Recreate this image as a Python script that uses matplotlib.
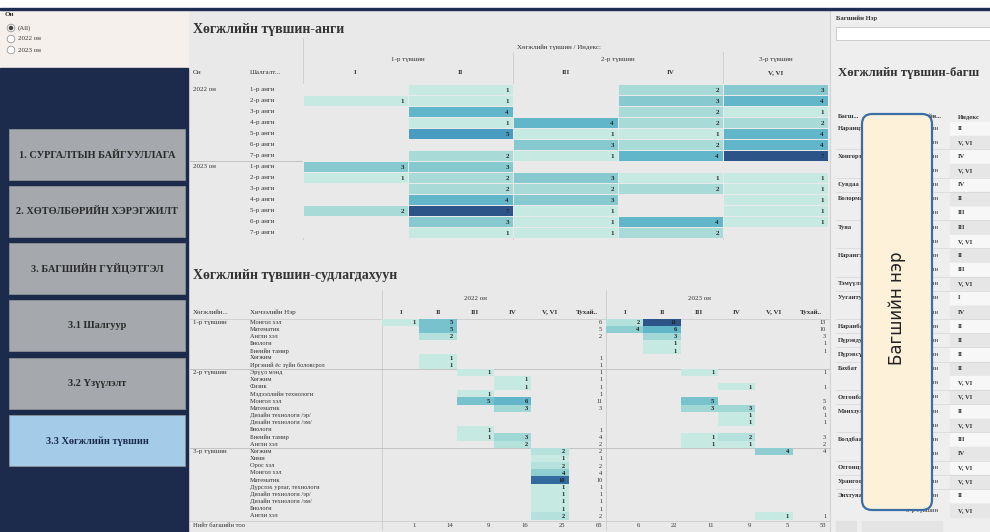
import numpy as np
import matplotlib
matplotlib.use('Agg')
import matplotlib.pyplot as plt
from matplotlib.patches import Rectangle, FancyBboxPatch, Circle
from matplotlib.colors import LinearSegmentedColormap

# ---------------- data ----------------
year_options = ['(All)', '2022 он', '2023 он']
nav_buttons = ['1. СУРГАЛТЫН БАЙГУУЛЛАГА', '2. ХӨТӨЛБӨРИЙН ХЭРЭГЖИЛТ',
               '3. БАГШИЙН ГҮЙЦЭТГЭЛ', '3.1 Шалгуур', '3.2 Үзүүлэлт',
               '3.3 Хөгжлийн түвшин']
years = ['2022 он', '2023 он']
levels = ['1-р түвшин', '2-р түвшин', '3-р түвшин']
index_cols = ['I', 'II', 'III', 'IV', 'V, VI']
grades = ['1-р анги', '2-р анги', '3-р анги', '4-р анги', '5-р анги', '6-р анги', '7-р анги']

N = np.nan
grade_2022 = [[N, 1, N, 2, 3], [1, 1, N, 3, 4], [N, 4, N, 2, 1], [N, 1, 4, 2, 2],
              [N, 5, 1, 1, 4], [N, N, 3, 2, 4], [N, 2, 1, 4, 7]]
grade_2023 = [[3, 3, N, N, N], [1, 2, 3, 1, 1], [N, 2, 2, 2, 1], [N, 4, 3, N, 1],
              [2, 7, 1, N, 1], [N, 3, 1, 4, 1], [N, 1, 1, 2, N]]

subjects_l1 = ['Монгол хэл', 'Математик', 'Англи хэл', 'Биологи', 'Биеийн тамир',
               'Хөгжим', 'Иргэний ёс зүйн боловсрол']
subjects_l2 = ['Эрүүл мэнд', 'Хөгжим', 'Физик', 'Мэдээллийн технологи', 'Монгол хэл',
               'Математик', 'Дизайн технологи /эр/', 'Дизайн технологи /эм/', 'Биологи',
               'Биеийн тамир', 'Англи хэл']
subjects_l3 = ['Хөгжим', 'Хими', 'Орос хэл', 'Монгол хэл', 'Математик',
               'Дүрслэх урлаг, технологи', 'Дизайн технологи /эр/',
               'Дизайн технологи /эм/', 'Биологи', 'Англи хэл']

subject_2022 = [[1, 5, N, N, N], [N, 5, N, N, N], [N, 2, N, N, N], [N, N, N, N, N],
                [N, N, N, N, N], [N, 1, N, N, N], [N, 1, N, N, N],
                [N, N, 1, N, N], [N, N, N, 1, N], [N, N, N, 1, N], [N, N, 1, N, N],
                [N, N, 5, 6, N], [N, N, N, 3, N], [N, N, N, N, N], [N, N, N, N, N],
                [N, N, 1, N, N], [N, N, 1, 3, N], [N, N, N, 2, N],
                [N, N, N, N, 2], [N, N, N, N, 1], [N, N, N, N, 2], [N, N, N, N, 4],
                [N, N, N, N, 10], [N, N, N, N, 1], [N, N, N, N, 1], [N, N, N, N, 1],
                [N, N, N, N, 1], [N, N, N, N, 2]]
subject_2023 = [[2, 11, N, N, N], [4, 6, N, N, N], [N, 3, N, N, N], [N, 1, N, N, N],
                [N, 1, N, N, N], [N, N, N, N, N], [N, N, N, N, N],
                [N, N, 1, N, N], [N, N, N, N, N], [N, N, N, 1, N], [N, N, N, N, N],
                [N, N, 5, N, N], [N, N, 3, 3, N], [N, N, N, 1, N], [N, N, N, 1, N],
                [N, N, N, N, N], [N, N, 1, 2, N], [N, N, 1, 1, N],
                [N, N, N, N, 4], [N, N, N, N, N], [N, N, N, N, N], [N, N, N, N, N],
                [N, N, N, N, N], [N, N, N, N, N], [N, N, N, N, N], [N, N, N, N, N],
                [N, N, N, N, N], [N, N, N, N, 1]]

teacher_names = ['Наранцэцэг', '', 'Хонгорзул', '', 'Сувдаа', 'Болормаа', '', 'Туяа', '',
                 'Нарангэрэл', '', 'Тэмүүлэн', 'Уугантуяа', '', 'Наранбаяр', 'Пүрэвдулам',
                 'Пүрэвсүрэн', 'Бэхбат', '', 'Отгонбаяр', 'Мөнхзул', '', 'Болдбаатар', '',
                 'Отгонцэцэг', 'Урангоо', 'Энхтуяа', '']
teacher_index = ['II', 'V, VI', 'IV', 'V, VI', 'IV', 'II', 'III', 'III', 'V, VI', 'II',
                 'III', 'V, VI', 'I', 'IV', 'II', 'II', 'II', 'II', 'V, VI', 'V, VI', 'II',
                 'V, VI', 'III', 'IV', 'V, VI', 'V, VI', 'II', 'V, VI']

# ---------------- figure ----------------
W, H = 990, 532
fig = plt.figure(figsize=(W / 100, H / 100), dpi=100)
ax = fig.add_axes([0, 0, 1, 1])
ax.set_xlim(0, W)
ax.set_ylim(H, 0)
ax.axis('off')

SERIF = 'Liberation Serif'
TXT = '#333333'
LINE = '#cccccc'
cmap = LinearSegmentedColormap.from_list(
    'bt', ['#c6e9e1', '#98d4d2', '#62b6ca', '#3c8fbc', '#2c5489'])


def px_axes(x0, y0, x1, y1):
    a = fig.add_axes([x0 / W, 1 - y1 / H, (x1 - x0) / W, (y1 - y0) / H])
    a.axis('off')
    a.patch.set_alpha(0)
    return a


def t(x, y, s, size=5.5, ha='left', va='center', weight='normal', color=TXT, **kw):
    ax.text(x, y, s, fontsize=size, ha=ha, va=va, fontweight=weight, color=color,
            family=SERIF, **kw)


# backgrounds
ax.add_patch(Rectangle((0, 0), W, 9, color='white', zorder=0))
ax.add_patch(Rectangle((188, 10), 642, H, color='#e9e9e9', zorder=0))
ax.add_patch(Rectangle((830, 10), 160, H, color='#eeeeee', zorder=0))
ax.add_patch(Rectangle((0, 10), 188, 58, color='#f6f0ec', zorder=0))
ax.add_patch(Rectangle((0, 68), 188, H - 68, color='#1c2a4b', zorder=0))
ax.add_patch(Rectangle((0, 8), W, 2.2, color='#1f2d52', zorder=3))
ax.plot([830, 830], [10, H], color='#d4d4d4', lw=0.8)

# ---------------- left panel ----------------
t(5, 15, 'Он', size=5, weight='bold')
for i, opt in enumerate(year_options):
    yy = 28 + i * 11
    ax.add_patch(Circle((11, yy), 3.8, facecolor='white', edgecolor='#999999', lw=0.6))
    if i == 0:
        ax.add_patch(Circle((11, yy), 1.6, color='#444444'))
    t(18, yy, opt, size=5)

btn_tops = [129, 186, 243, 300, 358, 415]
for i, (lab, y0) in enumerate(zip(nav_buttons, btn_tops)):
    fc = '#a4cce9' if i == 5 else '#a5a8ac'
    ax.add_patch(Rectangle((9, y0), 176, 51, facecolor=fc, edgecolor='#8d9196', lw=0.6))
    t(97, y0 + 26, lab, size=7.4, ha='center', weight='bold',
      color='#1c2a4b' if i == 5 else '#2a2a2a')

# ---------------- top heatmap: level vs grade ----------------
t(193, 29, 'Хөгжлийн түвшин-анги', size=10, weight='bold')
t(517, 47, 'Хөгжлийн түвшин / Индекс:', size=5)
col_x0, col_w = 303, 105
t(col_x0 + col_w, 60, levels[0], size=5, ha='center')
t(col_x0 + 3 * col_w, 60, levels[1], size=5, ha='center')
t(col_x0 + 4.5 * col_w, 60, levels[2], size=5, ha='center')
t(193, 73, 'Он', size=5)
t(250, 73, 'Шалгалт...', size=5)
for j, c in enumerate(index_cols):
    t(col_x0 + (j + 0.5) * col_w, 73, c, size=5, ha='center', weight='bold')
for xv, y0 in [(col_x0, 38), (col_x0 + 2 * col_w, 52), (col_x0 + 4 * col_w, 52)]:
    ax.plot([xv, xv], [y0, 239], color=LINE, lw=0.6)

top_vals = np.array(grade_2022 + grade_2023, dtype=float)
row_top, row_h = 84.0, 11.0
for i in range(top_vals.shape[0]):
    yy = row_top + (i + 0.5) * row_h
    t(250, yy, grades[i % 7], size=5)
t(193, row_top + 0.5 * row_h, years[0], size=5)
t(193, row_top + 7.5 * row_h, years[1], size=5)
ax.plot([190, 828], [row_top + 7 * row_h, row_top + 7 * row_h], color='#bdbdbd', lw=0.6)

ah = px_axes(col_x0, row_top, col_x0 + 5 * col_w, row_top + 14 * row_h)
ah.pcolormesh(np.ma.masked_invalid(top_vals), cmap=cmap, vmin=1, vmax=7,
              edgecolors='#e9e9e9', linewidth=0.5)
ah.set_xlim(0, 5)
ah.set_ylim(14, 0)
for i in range(top_vals.shape[0]):
    for j in range(5):
        v = top_vals[i, j]
        if not np.isnan(v):
            ah.text(j + 0.96, i + 0.55, f'{int(v)}', ha='right', va='center',
                    fontsize=5, family=SERIF, fontweight='bold', color='#2a2a2a')

# ---------------- bottom heatmap: level vs subject ----------------
t(193, 276, 'Хөгжлийн түвшин-судлагдахуун', size=10, weight='bold')
subjects = subjects_l1 + subjects_l2 + subjects_l3
group_start = [0, len(subjects_l1), len(subjects_l1) + len(subjects_l2)]
bx0, bw = 382, 37.33
by0, bh = 318.5, 7.18
t(bx0 + 2.5 * bw, 298, years[0], size=5, ha='center')
t(bx0 + 8.5 * bw, 298, years[1], size=5, ha='center')
t(193, 312, 'Хөгжлийн...', size=5)
t(250, 312, 'Хичээлийн Нэр', size=5)
hdr = index_cols + ['Тухай..']
for k in range(12):
    t(bx0 + (k + 0.5) * bw, 312, hdr[k % 6], size=5, ha='center', weight='bold')
ax.plot([bx0, bx0], [290, 530], color=LINE, lw=0.6)
ax.plot([bx0 + 6 * bw, bx0 + 6 * bw], [290, 530], color=LINE, lw=0.6)
ax.plot([190, 830], [by0, by0], color=LINE, lw=0.6)
for g, s in enumerate(group_start):
    t(193, by0 + (s + 0.5) * bh, levels[g], size=5)
    if g > 0:
        ax.plot([190, 830], [by0 + s * bh, by0 + s * bh], color='#bdbdbd', lw=0.6)
for i, s in enumerate(subjects):
    t(250, by0 + (i + 0.5) * bh, s, size=4.6)

a22 = np.array(subject_2022, dtype=float)
a23 = np.array(subject_2023, dtype=float)
nrow = len(subjects)
grid = np.full((nrow, 12), np.nan)
grid[:, 0:5] = a22
grid[:, 6:11] = a23
ab = px_axes(bx0, by0, bx0 + 12 * bw, by0 + nrow * bh)
ab.pcolormesh(np.ma.masked_invalid(grid), cmap=cmap, vmin=1, vmax=11,
              edgecolors='none')
ab.set_xlim(0, 12)
ab.set_ylim(nrow, 0)
tot22 = np.nansum(a22, axis=1)
tot23 = np.nansum(a23, axis=1)
for i in range(nrow):
    for j in range(12):
        v = grid[i, j]
        if not np.isnan(v):
            ab.text(j + 0.9, i + 0.55, f'{int(v)}', ha='right', va='center',
                    fontsize=4.6, family=SERIF, fontweight='bold', color='#222222')
    for jj, tv in [(5, tot22[i]), (11, tot23[i])]:
        if tv > 0:
            ab.text(jj + 0.9, i + 0.55, f'{int(tv)}', ha='right', va='center',
                    fontsize=4.6, family=SERIF, color=TXT)

ytot = by0 + nrow * bh + 5.5
ax.plot([190, 830], [by0 + nrow * bh + 1, by0 + nrow * bh + 1], color=LINE, lw=0.6)
t(193, ytot, 'Нийт багшийн тоо', size=4.8)
col_tot = list(np.nansum(a22, axis=0)) + [np.nansum(a22)] + \
    list(np.nansum(a23, axis=0)) + [np.nansum(a23)]
for k, v in enumerate(col_tot):
    t(bx0 + (k + 0.9) * bw, ytot, f'{int(v)}', size=4.8, ha='right')

# ---------------- right panel ----------------
t(836, 18, 'Багшийн Нэр', size=4.8, weight='bold')
ax.add_patch(Rectangle((836, 27), 160, 13, facecolor='white', edgecolor='#c4c4c4', lw=0.6))
t(838, 73, 'Хөгжлийн түвшин-багш', size=9.2, weight='bold')
t(838, 117, 'Багш...', size=4.8, weight='bold')
t(906, 117, 'Хөгжлийн...', size=4.8, weight='bold')
t(958, 117, 'Индекс', size=4.8, weight='bold')

lvl_of = {'I': levels[0], 'II': levels[0], 'III': levels[1], 'IV': levels[1], 'V, VI': levels[2]}
ry0, rh = 121, 14.15
for i, (nm, ix) in enumerate(zip(teacher_names, teacher_index)):
    yy = ry0 + (i + 0.5) * rh
    ax.add_patch(Rectangle((950, ry0 + i * rh + 0.6), 40, rh - 1.2,
                           color='#f7f7f7' if i % 2 == 0 else '#e6e6e6', zorder=1))
    if nm:
        t(838, yy, nm, size=4.8, weight='bold')
        if i > 0:
            ax.plot([836, 990], [ry0 + i * rh, ry0 + i * rh], color='#d6d6d6', lw=0.5)
    t(906, yy, lvl_of[ix], size=4.8)
    t(958, yy, ix, size=4.8, weight='bold', zorder=2)
ax.add_patch(Rectangle((836, 521), 20, 11, color='#e2e2e2'))
ax.add_patch(Rectangle((862, 521), 80, 11, color='#e4e4e4'))

# overlay box
ax.add_patch(FancyBboxPatch((862, 114), 70, 396,
                            boxstyle='round,pad=0,rounding_size=10',
                            facecolor='#fdf1d9', edgecolor='#3a6ea6', lw=1.6, zorder=5))
ax.text(897, 308, 'Багшийн нэр', rotation=90, ha='center', va='center', fontsize=12,
        family='DejaVu Sans', color='#222222', zorder=6)

fig.savefig('out.png', dpi=100)
